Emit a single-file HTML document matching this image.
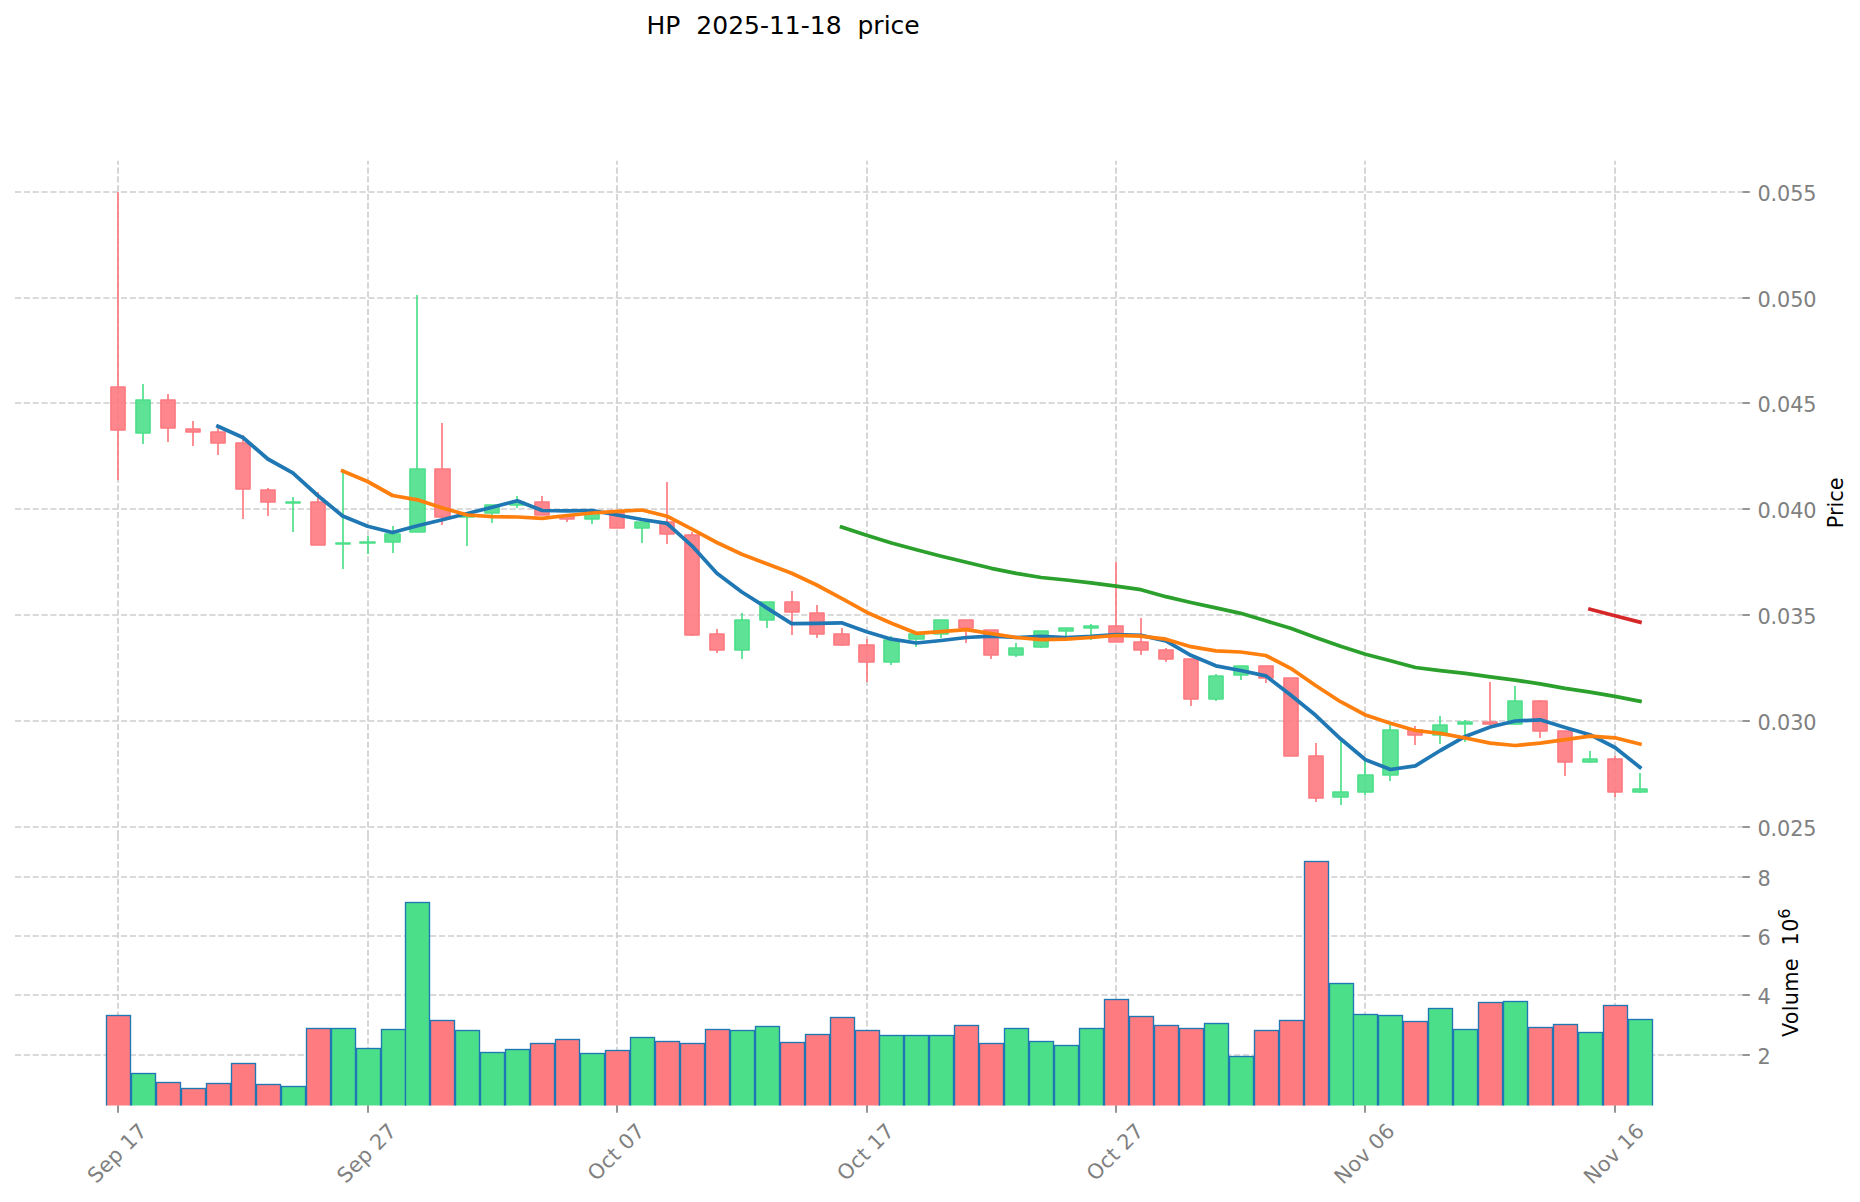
<!DOCTYPE html>
<html><head><meta charset="utf-8"><title>HP 2025-11-18 price</title>
<style>html,body{margin:0;padding:0;background:#fff;overflow:hidden}svg{display:block}</style></head>
<body>
<svg width="1860" height="1202" viewBox="0 0 1860 1202" font-family="'DejaVu Sans', 'Liberation Sans', sans-serif">
<rect width="1860" height="1202" fill="#ffffff"/>
<g stroke="#cecece" stroke-width="1.6667" stroke-dasharray="6.1667 2.6667" fill="none">
<line x1="15.0" y1="192.00" x2="1742.5" y2="192.00"/>
<line x1="15.0" y1="298.00" x2="1742.5" y2="298.00"/>
<line x1="15.0" y1="403.00" x2="1742.5" y2="403.00"/>
<line x1="15.0" y1="509.00" x2="1742.5" y2="509.00"/>
<line x1="15.0" y1="615.00" x2="1742.5" y2="615.00"/>
<line x1="15.0" y1="721.00" x2="1742.5" y2="721.00"/>
<line x1="15.0" y1="827.00" x2="1742.5" y2="827.00"/>
<line x1="15.0" y1="877.00" x2="1742.5" y2="877.00"/>
<line x1="15.0" y1="936.00" x2="1742.5" y2="936.00"/>
<line x1="15.0" y1="995.00" x2="1742.5" y2="995.00"/>
<line x1="15.0" y1="1055.00" x2="1742.5" y2="1055.00"/>
<line x1="118.00" y1="836.17" x2="118.00" y2="160.8"/>
<line x1="118.00" y1="1106.0" x2="118.00" y2="836.17"/>
<line x1="368.00" y1="836.17" x2="368.00" y2="160.8"/>
<line x1="368.00" y1="1106.0" x2="368.00" y2="836.17"/>
<line x1="617.00" y1="836.17" x2="617.00" y2="160.8"/>
<line x1="617.00" y1="1106.0" x2="617.00" y2="836.17"/>
<line x1="867.00" y1="836.17" x2="867.00" y2="160.8"/>
<line x1="867.00" y1="1106.0" x2="867.00" y2="836.17"/>
<line x1="1116.00" y1="836.17" x2="1116.00" y2="160.8"/>
<line x1="1116.00" y1="1106.0" x2="1116.00" y2="836.17"/>
<line x1="1365.00" y1="836.17" x2="1365.00" y2="160.8"/>
<line x1="1365.00" y1="1106.0" x2="1365.00" y2="836.17"/>
<line x1="1615.00" y1="836.17" x2="1615.00" y2="160.8"/>
<line x1="1615.00" y1="1106.0" x2="1615.00" y2="836.17"/>
</g>
<clipPath id="vc"><rect x="0" y="836.17" width="1860" height="269.33000000000004"/></clipPath>
<g stroke="#1f77b4" stroke-width="1.35" stroke-linejoin="miter" clip-path="url(#vc)">
<rect x="106.5" y="1015.5" width="24.0" height="93.00" fill="#fe7b80"/>
<rect x="131.5" y="1073.5" width="24.0" height="35.00" fill="#4cdf8a"/>
<rect x="156.5" y="1082.5" width="24.0" height="26.00" fill="#fe7b80"/>
<rect x="181.5" y="1088.5" width="24.0" height="20.00" fill="#fe7b80"/>
<rect x="206.5" y="1083.5" width="24.0" height="25.00" fill="#fe7b80"/>
<rect x="231.5" y="1063.5" width="24.0" height="45.00" fill="#fe7b80"/>
<rect x="256.5" y="1084.5" width="24.0" height="24.00" fill="#fe7b80"/>
<rect x="281.5" y="1086.5" width="24.0" height="22.00" fill="#4cdf8a"/>
<rect x="306.5" y="1028.5" width="24.0" height="80.00" fill="#fe7b80"/>
<rect x="331.5" y="1028.5" width="24.0" height="80.00" fill="#4cdf8a"/>
<rect x="356.5" y="1048.5" width="24.0" height="60.00" fill="#4cdf8a"/>
<rect x="381.5" y="1029.5" width="24.0" height="79.00" fill="#4cdf8a"/>
<rect x="405.5" y="902.5" width="24.0" height="206.00" fill="#4cdf8a"/>
<rect x="430.5" y="1020.5" width="24.0" height="88.00" fill="#fe7b80"/>
<rect x="455.5" y="1030.5" width="24.0" height="78.00" fill="#4cdf8a"/>
<rect x="480.5" y="1052.5" width="24.0" height="56.00" fill="#4cdf8a"/>
<rect x="505.5" y="1049.5" width="24.0" height="59.00" fill="#4cdf8a"/>
<rect x="530.5" y="1043.5" width="24.0" height="65.00" fill="#fe7b80"/>
<rect x="555.5" y="1039.5" width="24.0" height="69.00" fill="#fe7b80"/>
<rect x="580.5" y="1053.5" width="24.0" height="55.00" fill="#4cdf8a"/>
<rect x="605.5" y="1050.5" width="24.0" height="58.00" fill="#fe7b80"/>
<rect x="630.5" y="1037.5" width="24.0" height="71.00" fill="#4cdf8a"/>
<rect x="655.5" y="1041.5" width="24.0" height="67.00" fill="#fe7b80"/>
<rect x="680.5" y="1043.5" width="24.0" height="65.00" fill="#fe7b80"/>
<rect x="705.5" y="1029.5" width="24.0" height="79.00" fill="#fe7b80"/>
<rect x="730.5" y="1030.5" width="24.0" height="78.00" fill="#4cdf8a"/>
<rect x="755.5" y="1026.5" width="24.0" height="82.00" fill="#4cdf8a"/>
<rect x="780.5" y="1042.5" width="24.0" height="66.00" fill="#fe7b80"/>
<rect x="805.5" y="1034.5" width="24.0" height="74.00" fill="#fe7b80"/>
<rect x="830.5" y="1017.5" width="24.0" height="91.00" fill="#fe7b80"/>
<rect x="855.5" y="1030.5" width="24.0" height="78.00" fill="#fe7b80"/>
<rect x="879.5" y="1035.5" width="24.0" height="73.00" fill="#4cdf8a"/>
<rect x="904.5" y="1035.5" width="24.0" height="73.00" fill="#4cdf8a"/>
<rect x="929.5" y="1035.5" width="24.0" height="73.00" fill="#4cdf8a"/>
<rect x="954.5" y="1025.5" width="24.0" height="83.00" fill="#fe7b80"/>
<rect x="979.5" y="1043.5" width="24.0" height="65.00" fill="#fe7b80"/>
<rect x="1004.5" y="1028.5" width="24.0" height="80.00" fill="#4cdf8a"/>
<rect x="1029.5" y="1041.5" width="24.0" height="67.00" fill="#4cdf8a"/>
<rect x="1054.5" y="1045.5" width="24.0" height="63.00" fill="#4cdf8a"/>
<rect x="1079.5" y="1028.5" width="24.0" height="80.00" fill="#4cdf8a"/>
<rect x="1104.5" y="999.5" width="24.0" height="109.00" fill="#fe7b80"/>
<rect x="1129.5" y="1016.5" width="24.0" height="92.00" fill="#fe7b80"/>
<rect x="1154.5" y="1025.5" width="24.0" height="83.00" fill="#fe7b80"/>
<rect x="1179.5" y="1028.5" width="24.0" height="80.00" fill="#fe7b80"/>
<rect x="1204.5" y="1023.5" width="24.0" height="85.00" fill="#4cdf8a"/>
<rect x="1229.5" y="1056.5" width="24.0" height="52.00" fill="#4cdf8a"/>
<rect x="1254.5" y="1030.5" width="24.0" height="78.00" fill="#fe7b80"/>
<rect x="1279.5" y="1020.5" width="24.0" height="88.00" fill="#fe7b80"/>
<rect x="1304.5" y="861.5" width="24.0" height="247.00" fill="#fe7b80"/>
<rect x="1329.5" y="983.5" width="24.0" height="125.00" fill="#4cdf8a"/>
<rect x="1353.5" y="1014.5" width="24.0" height="94.00" fill="#4cdf8a"/>
<rect x="1378.5" y="1015.5" width="24.0" height="93.00" fill="#4cdf8a"/>
<rect x="1403.5" y="1021.5" width="24.0" height="87.00" fill="#fe7b80"/>
<rect x="1428.5" y="1008.5" width="24.0" height="100.00" fill="#4cdf8a"/>
<rect x="1453.5" y="1029.5" width="24.0" height="79.00" fill="#4cdf8a"/>
<rect x="1478.5" y="1002.5" width="24.0" height="106.00" fill="#fe7b80"/>
<rect x="1503.5" y="1001.5" width="24.0" height="107.00" fill="#4cdf8a"/>
<rect x="1528.5" y="1027.5" width="24.0" height="81.00" fill="#fe7b80"/>
<rect x="1553.5" y="1024.5" width="24.0" height="84.00" fill="#fe7b80"/>
<rect x="1578.5" y="1032.5" width="24.0" height="76.00" fill="#4cdf8a"/>
<rect x="1603.5" y="1005.5" width="24.0" height="103.00" fill="#fe7b80"/>
<rect x="1628.5" y="1019.5" width="24.0" height="89.00" fill="#4cdf8a"/>
</g>
<line x1="118.00" y1="192.00" x2="118.00" y2="386.80" stroke="#fd7a80" stroke-width="1.67"/>
<line x1="118.00" y1="430.10" x2="118.00" y2="480.00" stroke="#fd7a80" stroke-width="1.67"/>
<line x1="143.00" y1="384.00" x2="143.00" y2="400.00" stroke="#4cdf8a" stroke-width="1.67"/>
<line x1="143.00" y1="432.90" x2="143.00" y2="444.00" stroke="#4cdf8a" stroke-width="1.67"/>
<line x1="168.00" y1="394.00" x2="168.00" y2="400.00" stroke="#fd7a80" stroke-width="1.67"/>
<line x1="168.00" y1="427.90" x2="168.00" y2="442.00" stroke="#fd7a80" stroke-width="1.67"/>
<line x1="193.00" y1="421.00" x2="193.00" y2="429.00" stroke="#fd7a80" stroke-width="1.67"/>
<line x1="193.00" y1="432.00" x2="193.00" y2="446.00" stroke="#fd7a80" stroke-width="1.67"/>
<line x1="218.00" y1="428.00" x2="218.00" y2="432.00" stroke="#fd7a80" stroke-width="1.67"/>
<line x1="218.00" y1="442.90" x2="218.00" y2="455.00" stroke="#fd7a80" stroke-width="1.67"/>
<line x1="243.00" y1="435.00" x2="243.00" y2="442.80" stroke="#fd7a80" stroke-width="1.67"/>
<line x1="243.00" y1="488.90" x2="243.00" y2="519.00" stroke="#fd7a80" stroke-width="1.67"/>
<line x1="268.00" y1="488.00" x2="268.00" y2="490.00" stroke="#fd7a80" stroke-width="1.67"/>
<line x1="268.00" y1="502.00" x2="268.00" y2="516.00" stroke="#fd7a80" stroke-width="1.67"/>
<line x1="293.00" y1="497.00" x2="293.00" y2="502.00" stroke="#4cdf8a" stroke-width="1.67"/>
<line x1="293.00" y1="503.00" x2="293.00" y2="532.00" stroke="#4cdf8a" stroke-width="1.67"/>
<line x1="318.00" y1="492.00" x2="318.00" y2="502.00" stroke="#fd7a80" stroke-width="1.67"/>
<line x1="343.00" y1="469.00" x2="343.00" y2="542.80" stroke="#4cdf8a" stroke-width="1.67"/>
<line x1="343.00" y1="544.00" x2="343.00" y2="569.00" stroke="#4cdf8a" stroke-width="1.67"/>
<line x1="368.00" y1="536.00" x2="368.00" y2="541.80" stroke="#4cdf8a" stroke-width="1.67"/>
<line x1="368.00" y1="543.20" x2="368.00" y2="554.00" stroke="#4cdf8a" stroke-width="1.67"/>
<line x1="393.00" y1="526.00" x2="393.00" y2="533.60" stroke="#4cdf8a" stroke-width="1.67"/>
<line x1="393.00" y1="542.00" x2="393.00" y2="553.00" stroke="#4cdf8a" stroke-width="1.67"/>
<line x1="417.00" y1="295.00" x2="417.00" y2="469.00" stroke="#4cdf8a" stroke-width="1.67"/>
<line x1="442.00" y1="423.00" x2="442.00" y2="469.00" stroke="#fd7a80" stroke-width="1.67"/>
<line x1="442.00" y1="516.90" x2="442.00" y2="525.00" stroke="#fd7a80" stroke-width="1.67"/>
<line x1="467.00" y1="513.00" x2="467.00" y2="515.30" stroke="#4cdf8a" stroke-width="1.67"/>
<line x1="467.00" y1="516.70" x2="467.00" y2="546.00" stroke="#4cdf8a" stroke-width="1.67"/>
<line x1="492.00" y1="513.00" x2="492.00" y2="523.00" stroke="#4cdf8a" stroke-width="1.67"/>
<line x1="517.00" y1="496.00" x2="517.00" y2="502.00" stroke="#4cdf8a" stroke-width="1.67"/>
<line x1="517.00" y1="504.70" x2="517.00" y2="508.00" stroke="#4cdf8a" stroke-width="1.67"/>
<line x1="542.00" y1="496.00" x2="542.00" y2="502.00" stroke="#fd7a80" stroke-width="1.67"/>
<line x1="567.00" y1="518.70" x2="567.00" y2="522.00" stroke="#fd7a80" stroke-width="1.67"/>
<line x1="592.00" y1="518.70" x2="592.00" y2="524.00" stroke="#4cdf8a" stroke-width="1.67"/>
<line x1="642.00" y1="527.90" x2="642.00" y2="543.00" stroke="#4cdf8a" stroke-width="1.67"/>
<line x1="667.00" y1="482.00" x2="667.00" y2="522.00" stroke="#fd7a80" stroke-width="1.67"/>
<line x1="667.00" y1="533.90" x2="667.00" y2="544.00" stroke="#fd7a80" stroke-width="1.67"/>
<line x1="692.00" y1="532.00" x2="692.00" y2="535.00" stroke="#fd7a80" stroke-width="1.67"/>
<line x1="692.00" y1="634.70" x2="692.00" y2="636.00" stroke="#fd7a80" stroke-width="1.67"/>
<line x1="717.00" y1="629.00" x2="717.00" y2="634.10" stroke="#fd7a80" stroke-width="1.67"/>
<line x1="717.00" y1="649.70" x2="717.00" y2="653.00" stroke="#fd7a80" stroke-width="1.67"/>
<line x1="742.00" y1="613.00" x2="742.00" y2="620.30" stroke="#4cdf8a" stroke-width="1.67"/>
<line x1="742.00" y1="649.70" x2="742.00" y2="659.00" stroke="#4cdf8a" stroke-width="1.67"/>
<line x1="767.00" y1="619.70" x2="767.00" y2="628.00" stroke="#4cdf8a" stroke-width="1.67"/>
<line x1="792.00" y1="591.00" x2="792.00" y2="602.10" stroke="#fd7a80" stroke-width="1.67"/>
<line x1="792.00" y1="611.70" x2="792.00" y2="635.00" stroke="#fd7a80" stroke-width="1.67"/>
<line x1="817.00" y1="605.00" x2="817.00" y2="613.30" stroke="#fd7a80" stroke-width="1.67"/>
<line x1="817.00" y1="633.70" x2="817.00" y2="638.00" stroke="#fd7a80" stroke-width="1.67"/>
<line x1="842.00" y1="628.00" x2="842.00" y2="634.10" stroke="#fd7a80" stroke-width="1.67"/>
<line x1="842.00" y1="644.70" x2="842.00" y2="646.00" stroke="#fd7a80" stroke-width="1.67"/>
<line x1="867.00" y1="639.00" x2="867.00" y2="645.30" stroke="#fd7a80" stroke-width="1.67"/>
<line x1="867.00" y1="661.70" x2="867.00" y2="682.00" stroke="#fd7a80" stroke-width="1.67"/>
<line x1="891.00" y1="636.00" x2="891.00" y2="640.00" stroke="#4cdf8a" stroke-width="1.67"/>
<line x1="891.00" y1="661.70" x2="891.00" y2="665.00" stroke="#4cdf8a" stroke-width="1.67"/>
<line x1="916.00" y1="639.20" x2="916.00" y2="647.00" stroke="#4cdf8a" stroke-width="1.67"/>
<line x1="941.00" y1="633.70" x2="941.00" y2="638.00" stroke="#4cdf8a" stroke-width="1.67"/>
<line x1="966.00" y1="628.20" x2="966.00" y2="643.00" stroke="#fd7a80" stroke-width="1.67"/>
<line x1="991.00" y1="654.70" x2="991.00" y2="659.00" stroke="#fd7a80" stroke-width="1.67"/>
<line x1="1016.00" y1="643.00" x2="1016.00" y2="648.30" stroke="#4cdf8a" stroke-width="1.67"/>
<line x1="1016.00" y1="654.70" x2="1016.00" y2="657.00" stroke="#4cdf8a" stroke-width="1.67"/>
<line x1="1041.00" y1="646.70" x2="1041.00" y2="648.00" stroke="#4cdf8a" stroke-width="1.67"/>
<line x1="1066.00" y1="630.90" x2="1066.00" y2="637.00" stroke="#4cdf8a" stroke-width="1.67"/>
<line x1="1091.00" y1="624.00" x2="1091.00" y2="626.10" stroke="#4cdf8a" stroke-width="1.67"/>
<line x1="1091.00" y1="627.90" x2="1091.00" y2="640.00" stroke="#4cdf8a" stroke-width="1.67"/>
<line x1="1116.00" y1="562.00" x2="1116.00" y2="626.30" stroke="#fd7a80" stroke-width="1.67"/>
<line x1="1141.00" y1="618.00" x2="1141.00" y2="642.10" stroke="#fd7a80" stroke-width="1.67"/>
<line x1="1141.00" y1="649.70" x2="1141.00" y2="655.00" stroke="#fd7a80" stroke-width="1.67"/>
<line x1="1166.00" y1="648.00" x2="1166.00" y2="650.30" stroke="#fd7a80" stroke-width="1.67"/>
<line x1="1166.00" y1="658.70" x2="1166.00" y2="662.00" stroke="#fd7a80" stroke-width="1.67"/>
<line x1="1191.00" y1="698.90" x2="1191.00" y2="706.00" stroke="#fd7a80" stroke-width="1.67"/>
<line x1="1216.00" y1="674.00" x2="1216.00" y2="676.10" stroke="#4cdf8a" stroke-width="1.67"/>
<line x1="1216.00" y1="698.90" x2="1216.00" y2="701.00" stroke="#4cdf8a" stroke-width="1.67"/>
<line x1="1241.00" y1="674.70" x2="1241.00" y2="680.00" stroke="#4cdf8a" stroke-width="1.67"/>
<line x1="1266.00" y1="677.90" x2="1266.00" y2="683.00" stroke="#fd7a80" stroke-width="1.67"/>
<line x1="1316.00" y1="743.00" x2="1316.00" y2="756.10" stroke="#fd7a80" stroke-width="1.67"/>
<line x1="1316.00" y1="797.90" x2="1316.00" y2="802.00" stroke="#fd7a80" stroke-width="1.67"/>
<line x1="1341.00" y1="741.00" x2="1341.00" y2="792.10" stroke="#4cdf8a" stroke-width="1.67"/>
<line x1="1341.00" y1="796.70" x2="1341.00" y2="805.00" stroke="#4cdf8a" stroke-width="1.67"/>
<line x1="1365.00" y1="760.00" x2="1365.00" y2="775.30" stroke="#4cdf8a" stroke-width="1.67"/>
<line x1="1365.00" y1="791.70" x2="1365.00" y2="795.00" stroke="#4cdf8a" stroke-width="1.67"/>
<line x1="1390.00" y1="725.00" x2="1390.00" y2="730.30" stroke="#4cdf8a" stroke-width="1.67"/>
<line x1="1390.00" y1="774.70" x2="1390.00" y2="781.00" stroke="#4cdf8a" stroke-width="1.67"/>
<line x1="1415.00" y1="726.00" x2="1415.00" y2="730.00" stroke="#fd7a80" stroke-width="1.67"/>
<line x1="1415.00" y1="734.70" x2="1415.00" y2="745.00" stroke="#fd7a80" stroke-width="1.67"/>
<line x1="1440.00" y1="716.00" x2="1440.00" y2="724.50" stroke="#4cdf8a" stroke-width="1.67"/>
<line x1="1440.00" y1="734.70" x2="1440.00" y2="744.00" stroke="#4cdf8a" stroke-width="1.67"/>
<line x1="1465.00" y1="720.00" x2="1465.00" y2="722.10" stroke="#4cdf8a" stroke-width="1.67"/>
<line x1="1465.00" y1="724.50" x2="1465.00" y2="742.00" stroke="#4cdf8a" stroke-width="1.67"/>
<line x1="1490.00" y1="682.00" x2="1490.00" y2="722.00" stroke="#fd7a80" stroke-width="1.67"/>
<line x1="1490.00" y1="723.80" x2="1490.00" y2="725.00" stroke="#fd7a80" stroke-width="1.67"/>
<line x1="1515.00" y1="686.00" x2="1515.00" y2="701.20" stroke="#4cdf8a" stroke-width="1.67"/>
<line x1="1515.00" y1="723.80" x2="1515.00" y2="725.00" stroke="#4cdf8a" stroke-width="1.67"/>
<line x1="1540.00" y1="700.00" x2="1540.00" y2="701.20" stroke="#fd7a80" stroke-width="1.67"/>
<line x1="1540.00" y1="730.70" x2="1540.00" y2="738.00" stroke="#fd7a80" stroke-width="1.67"/>
<line x1="1565.00" y1="761.70" x2="1565.00" y2="776.00" stroke="#fd7a80" stroke-width="1.67"/>
<line x1="1590.00" y1="751.00" x2="1590.00" y2="759.10" stroke="#4cdf8a" stroke-width="1.67"/>
<line x1="1590.00" y1="761.70" x2="1590.00" y2="763.00" stroke="#4cdf8a" stroke-width="1.67"/>
<line x1="1615.00" y1="756.00" x2="1615.00" y2="759.10" stroke="#fd7a80" stroke-width="1.67"/>
<line x1="1615.00" y1="791.70" x2="1615.00" y2="797.00" stroke="#fd7a80" stroke-width="1.67"/>
<line x1="1640.00" y1="773.00" x2="1640.00" y2="789.10" stroke="#4cdf8a" stroke-width="1.67"/>
<line x1="1640.00" y1="791.70" x2="1640.00" y2="793.00" stroke="#4cdf8a" stroke-width="1.67"/>
<rect x="111" y="387" width="14" height="43" fill="#fd7a80" fill-opacity="0.9" stroke="#fd7a80" stroke-width="1.67" stroke-linejoin="round"/>
<rect x="136" y="400" width="14" height="33" fill="#4cdf8a" fill-opacity="0.9" stroke="#4cdf8a" stroke-width="1.67" stroke-linejoin="round"/>
<rect x="161" y="400" width="14" height="28" fill="#fd7a80" fill-opacity="0.9" stroke="#fd7a80" stroke-width="1.67" stroke-linejoin="round"/>
<rect x="186" y="429" width="14" height="3" fill="#fd7a80" fill-opacity="0.9" stroke="#fd7a80" stroke-width="1.67" stroke-linejoin="round"/>
<rect x="211" y="432" width="14" height="11" fill="#fd7a80" fill-opacity="0.9" stroke="#fd7a80" stroke-width="1.67" stroke-linejoin="round"/>
<rect x="236" y="443" width="14" height="46" fill="#fd7a80" fill-opacity="0.9" stroke="#fd7a80" stroke-width="1.67" stroke-linejoin="round"/>
<rect x="261" y="490" width="14" height="12" fill="#fd7a80" fill-opacity="0.9" stroke="#fd7a80" stroke-width="1.67" stroke-linejoin="round"/>
<rect x="286" y="502" width="14" height="1" fill="#4cdf8a" fill-opacity="0.9" stroke="#4cdf8a" stroke-width="1.67" stroke-linejoin="round"/>
<rect x="311" y="502" width="14" height="43" fill="#fd7a80" fill-opacity="0.9" stroke="#fd7a80" stroke-width="1.67" stroke-linejoin="round"/>
<rect x="336" y="543" width="14" height="1" fill="#4cdf8a" fill-opacity="0.9" stroke="#4cdf8a" stroke-width="1.67" stroke-linejoin="round"/>
<rect x="360" y="542" width="15" height="1" fill="#4cdf8a" fill-opacity="0.9" stroke="#4cdf8a" stroke-width="1.67" stroke-linejoin="round"/>
<rect x="385" y="534" width="15" height="8" fill="#4cdf8a" fill-opacity="0.9" stroke="#4cdf8a" stroke-width="1.67" stroke-linejoin="round"/>
<rect x="410" y="469" width="15" height="63" fill="#4cdf8a" fill-opacity="0.9" stroke="#4cdf8a" stroke-width="1.67" stroke-linejoin="round"/>
<rect x="435" y="469" width="15" height="48" fill="#fd7a80" fill-opacity="0.9" stroke="#fd7a80" stroke-width="1.67" stroke-linejoin="round"/>
<rect x="460" y="515" width="14" height="2" fill="#4cdf8a" fill-opacity="0.9" stroke="#4cdf8a" stroke-width="1.67" stroke-linejoin="round"/>
<rect x="485" y="505" width="14" height="8" fill="#4cdf8a" fill-opacity="0.9" stroke="#4cdf8a" stroke-width="1.67" stroke-linejoin="round"/>
<rect x="510" y="502" width="14" height="3" fill="#4cdf8a" fill-opacity="0.9" stroke="#4cdf8a" stroke-width="1.67" stroke-linejoin="round"/>
<rect x="535" y="502" width="14" height="13" fill="#fd7a80" fill-opacity="0.9" stroke="#fd7a80" stroke-width="1.67" stroke-linejoin="round"/>
<rect x="560" y="516" width="14" height="3" fill="#fd7a80" fill-opacity="0.9" stroke="#fd7a80" stroke-width="1.67" stroke-linejoin="round"/>
<rect x="585" y="513" width="14" height="6" fill="#4cdf8a" fill-opacity="0.9" stroke="#4cdf8a" stroke-width="1.67" stroke-linejoin="round"/>
<rect x="610" y="513" width="14" height="15" fill="#fd7a80" fill-opacity="0.9" stroke="#fd7a80" stroke-width="1.67" stroke-linejoin="round"/>
<rect x="635" y="522" width="14" height="6" fill="#4cdf8a" fill-opacity="0.9" stroke="#4cdf8a" stroke-width="1.67" stroke-linejoin="round"/>
<rect x="660" y="522" width="14" height="12" fill="#fd7a80" fill-opacity="0.9" stroke="#fd7a80" stroke-width="1.67" stroke-linejoin="round"/>
<rect x="685" y="535" width="14" height="100" fill="#fd7a80" fill-opacity="0.9" stroke="#fd7a80" stroke-width="1.67" stroke-linejoin="round"/>
<rect x="710" y="634" width="14" height="16" fill="#fd7a80" fill-opacity="0.9" stroke="#fd7a80" stroke-width="1.67" stroke-linejoin="round"/>
<rect x="735" y="620" width="14" height="30" fill="#4cdf8a" fill-opacity="0.9" stroke="#4cdf8a" stroke-width="1.67" stroke-linejoin="round"/>
<rect x="760" y="602" width="14" height="18" fill="#4cdf8a" fill-opacity="0.9" stroke="#4cdf8a" stroke-width="1.67" stroke-linejoin="round"/>
<rect x="785" y="602" width="14" height="10" fill="#fd7a80" fill-opacity="0.9" stroke="#fd7a80" stroke-width="1.67" stroke-linejoin="round"/>
<rect x="810" y="613" width="14" height="21" fill="#fd7a80" fill-opacity="0.9" stroke="#fd7a80" stroke-width="1.67" stroke-linejoin="round"/>
<rect x="834" y="634" width="15" height="11" fill="#fd7a80" fill-opacity="0.9" stroke="#fd7a80" stroke-width="1.67" stroke-linejoin="round"/>
<rect x="859" y="645" width="15" height="17" fill="#fd7a80" fill-opacity="0.9" stroke="#fd7a80" stroke-width="1.67" stroke-linejoin="round"/>
<rect x="884" y="640" width="15" height="22" fill="#4cdf8a" fill-opacity="0.9" stroke="#4cdf8a" stroke-width="1.67" stroke-linejoin="round"/>
<rect x="909" y="634" width="15" height="5" fill="#4cdf8a" fill-opacity="0.9" stroke="#4cdf8a" stroke-width="1.67" stroke-linejoin="round"/>
<rect x="934" y="620" width="14" height="14" fill="#4cdf8a" fill-opacity="0.9" stroke="#4cdf8a" stroke-width="1.67" stroke-linejoin="round"/>
<rect x="959" y="620" width="14" height="8" fill="#fd7a80" fill-opacity="0.9" stroke="#fd7a80" stroke-width="1.67" stroke-linejoin="round"/>
<rect x="984" y="630" width="14" height="25" fill="#fd7a80" fill-opacity="0.9" stroke="#fd7a80" stroke-width="1.67" stroke-linejoin="round"/>
<rect x="1009" y="648" width="14" height="7" fill="#4cdf8a" fill-opacity="0.9" stroke="#4cdf8a" stroke-width="1.67" stroke-linejoin="round"/>
<rect x="1034" y="631" width="14" height="16" fill="#4cdf8a" fill-opacity="0.9" stroke="#4cdf8a" stroke-width="1.67" stroke-linejoin="round"/>
<rect x="1059" y="628" width="14" height="3" fill="#4cdf8a" fill-opacity="0.9" stroke="#4cdf8a" stroke-width="1.67" stroke-linejoin="round"/>
<rect x="1084" y="626" width="14" height="2" fill="#4cdf8a" fill-opacity="0.9" stroke="#4cdf8a" stroke-width="1.67" stroke-linejoin="round"/>
<rect x="1109" y="626" width="14" height="16" fill="#fd7a80" fill-opacity="0.9" stroke="#fd7a80" stroke-width="1.67" stroke-linejoin="round"/>
<rect x="1134" y="642" width="14" height="8" fill="#fd7a80" fill-opacity="0.9" stroke="#fd7a80" stroke-width="1.67" stroke-linejoin="round"/>
<rect x="1159" y="650" width="14" height="9" fill="#fd7a80" fill-opacity="0.9" stroke="#fd7a80" stroke-width="1.67" stroke-linejoin="round"/>
<rect x="1184" y="659" width="14" height="40" fill="#fd7a80" fill-opacity="0.9" stroke="#fd7a80" stroke-width="1.67" stroke-linejoin="round"/>
<rect x="1209" y="676" width="14" height="23" fill="#4cdf8a" fill-opacity="0.9" stroke="#4cdf8a" stroke-width="1.67" stroke-linejoin="round"/>
<rect x="1234" y="666" width="14" height="9" fill="#4cdf8a" fill-opacity="0.9" stroke="#4cdf8a" stroke-width="1.67" stroke-linejoin="round"/>
<rect x="1259" y="666" width="14" height="12" fill="#fd7a80" fill-opacity="0.9" stroke="#fd7a80" stroke-width="1.67" stroke-linejoin="round"/>
<rect x="1284" y="678" width="14" height="78" fill="#fd7a80" fill-opacity="0.9" stroke="#fd7a80" stroke-width="1.67" stroke-linejoin="round"/>
<rect x="1309" y="756" width="14" height="42" fill="#fd7a80" fill-opacity="0.9" stroke="#fd7a80" stroke-width="1.67" stroke-linejoin="round"/>
<rect x="1333" y="792" width="15" height="5" fill="#4cdf8a" fill-opacity="0.9" stroke="#4cdf8a" stroke-width="1.67" stroke-linejoin="round"/>
<rect x="1358" y="775" width="15" height="17" fill="#4cdf8a" fill-opacity="0.9" stroke="#4cdf8a" stroke-width="1.67" stroke-linejoin="round"/>
<rect x="1383" y="730" width="15" height="45" fill="#4cdf8a" fill-opacity="0.9" stroke="#4cdf8a" stroke-width="1.67" stroke-linejoin="round"/>
<rect x="1408" y="730" width="14" height="5" fill="#fd7a80" fill-opacity="0.9" stroke="#fd7a80" stroke-width="1.67" stroke-linejoin="round"/>
<rect x="1433" y="725" width="14" height="10" fill="#4cdf8a" fill-opacity="0.9" stroke="#4cdf8a" stroke-width="1.67" stroke-linejoin="round"/>
<rect x="1458" y="722" width="14" height="2" fill="#4cdf8a" fill-opacity="0.9" stroke="#4cdf8a" stroke-width="1.67" stroke-linejoin="round"/>
<rect x="1483" y="722" width="14" height="2" fill="#fd7a80" fill-opacity="0.9" stroke="#fd7a80" stroke-width="1.67" stroke-linejoin="round"/>
<rect x="1508" y="701" width="14" height="23" fill="#4cdf8a" fill-opacity="0.9" stroke="#4cdf8a" stroke-width="1.67" stroke-linejoin="round"/>
<rect x="1533" y="701" width="14" height="30" fill="#fd7a80" fill-opacity="0.9" stroke="#fd7a80" stroke-width="1.67" stroke-linejoin="round"/>
<rect x="1558" y="731" width="14" height="31" fill="#fd7a80" fill-opacity="0.9" stroke="#fd7a80" stroke-width="1.67" stroke-linejoin="round"/>
<rect x="1583" y="759" width="14" height="3" fill="#4cdf8a" fill-opacity="0.9" stroke="#4cdf8a" stroke-width="1.67" stroke-linejoin="round"/>
<rect x="1608" y="759" width="14" height="33" fill="#fd7a80" fill-opacity="0.9" stroke="#fd7a80" stroke-width="1.67" stroke-linejoin="round"/>
<rect x="1633" y="789" width="14" height="3" fill="#4cdf8a" fill-opacity="0.9" stroke="#4cdf8a" stroke-width="1.67" stroke-linejoin="round"/>
<polyline points="217.91,426.20 242.86,437.50 267.81,459.00 292.75,472.80 317.70,495.50 342.65,516.00 367.60,526.20 392.54,532.50 417.49,525.80 442.44,519.80 467.39,513.50 492.33,507.20 517.28,500.80 542.23,510.50 567.17,510.80 592.12,510.50 617.07,515.00 642.02,519.50 666.97,523.30 691.91,545.80 716.86,573.30 741.81,592.00 766.75,607.80 791.70,623.70 816.65,623.30 841.60,622.80 866.55,631.70 891.49,639.20 916.44,643.00 941.39,640.50 966.34,637.50 991.28,636.20 1016.23,637.50 1041.18,636.30 1066.12,637.50 1091.07,636.30 1116.02,634.50 1140.97,635.30 1165.91,640.80 1190.86,655.30 1215.81,665.80 1240.76,670.50 1265.70,675.80 1290.65,695.00 1315.60,715.30 1340.55,738.80 1365.49,759.70 1390.44,769.50 1415.39,765.80 1440.34,750.50 1465.29,736.40 1490.23,727.00 1515.18,721.00 1540.13,719.80 1565.08,727.50 1590.02,734.70 1614.97,747.50 1639.92,767.30" fill="none" stroke="#1f77b4" stroke-width="3.75" stroke-linecap="square" stroke-linejoin="round"/>
<polyline points="342.65,471.00 367.60,481.50 392.54,495.50 417.49,499.80 442.44,508.00 467.39,515.00 492.33,516.70 517.28,517.00 542.23,518.30 567.17,515.50 592.12,513.00 617.07,511.30 642.02,510.00 666.97,516.20 691.91,529.20 716.86,542.50 741.81,554.20 766.75,563.80 791.70,573.30 816.65,585.00 841.60,598.30 866.55,612.20 891.49,623.30 916.44,633.30 941.39,631.70 966.34,629.70 991.28,633.70 1016.23,637.50 1041.18,639.70 1066.12,639.20 1091.07,637.50 1116.02,635.50 1140.97,636.20 1165.91,639.20 1190.86,646.70 1215.81,650.80 1240.76,652.00 1265.70,655.50 1290.65,668.30 1315.60,685.50 1340.55,701.70 1365.49,715.00 1390.44,723.30 1415.39,730.50 1440.34,733.30 1465.29,738.00 1490.23,743.20 1515.18,745.50 1540.13,743.20 1565.08,739.70 1590.02,736.20 1614.97,737.80 1639.92,744.00" fill="none" stroke="#ff7f0e" stroke-width="3.75" stroke-linecap="square" stroke-linejoin="round"/>
<polyline points="841.60,527.00 866.55,535.30 891.49,543.00 916.44,549.70 941.39,556.20 966.34,562.30 991.28,568.30 1016.23,573.30 1041.18,577.50 1066.12,580.00 1091.07,582.80 1116.02,586.20 1140.97,589.70 1165.91,596.70 1190.86,602.50 1215.81,607.80 1240.76,613.30 1265.70,620.80 1290.65,628.30 1315.60,637.50 1340.55,646.30 1365.49,654.20 1390.44,660.80 1415.39,667.50 1440.34,670.60 1465.29,673.30 1490.23,676.80 1515.18,680.20 1540.13,683.80 1565.08,688.30 1590.02,692.20 1614.97,696.30 1639.92,701.20" fill="none" stroke="#2ca02c" stroke-width="3.75" stroke-linecap="square" stroke-linejoin="round"/>
<polyline points="1590.02,609.20 1614.97,615.80 1639.92,622.20" fill="none" stroke="#d62728" stroke-width="3.75" stroke-linecap="square" stroke-linejoin="round"/>
<g stroke="#808080" stroke-width="1.67">
<line x1="1742.5" y1="192.00" x2="1749.8" y2="192.00"/>
<line x1="1742.5" y1="298.00" x2="1749.8" y2="298.00"/>
<line x1="1742.5" y1="403.00" x2="1749.8" y2="403.00"/>
<line x1="1742.5" y1="509.00" x2="1749.8" y2="509.00"/>
<line x1="1742.5" y1="615.00" x2="1749.8" y2="615.00"/>
<line x1="1742.5" y1="721.00" x2="1749.8" y2="721.00"/>
<line x1="1742.5" y1="827.00" x2="1749.8" y2="827.00"/>
<line x1="1742.5" y1="877.00" x2="1749.8" y2="877.00"/>
<line x1="1742.5" y1="936.00" x2="1749.8" y2="936.00"/>
<line x1="1742.5" y1="995.00" x2="1749.8" y2="995.00"/>
<line x1="1742.5" y1="1055.00" x2="1749.8" y2="1055.00"/>
<line x1="118.00" y1="1105.5" x2="118.00" y2="1112.8"/>
<line x1="368.00" y1="1105.5" x2="368.00" y2="1112.8"/>
<line x1="617.00" y1="1105.5" x2="617.00" y2="1112.8"/>
<line x1="867.00" y1="1105.5" x2="867.00" y2="1112.8"/>
<line x1="1116.00" y1="1105.5" x2="1116.00" y2="1112.8"/>
<line x1="1365.00" y1="1105.5" x2="1365.00" y2="1112.8"/>
<line x1="1615.00" y1="1105.5" x2="1615.00" y2="1112.8"/>
</g>
<g fill="#808080" font-size="20.83">
<text x="1757.5" y="200.60" letter-spacing="-0.15">0.055</text>
<text x="1757.5" y="306.60" letter-spacing="-0.15">0.050</text>
<text x="1757.5" y="411.60" letter-spacing="-0.15">0.045</text>
<text x="1757.5" y="517.60" letter-spacing="-0.15">0.040</text>
<text x="1757.5" y="623.60" letter-spacing="-0.15">0.035</text>
<text x="1757.5" y="729.60" letter-spacing="-0.15">0.030</text>
<text x="1757.5" y="835.60" letter-spacing="-0.15">0.025</text>
<text x="1757.5" y="885.60">8</text>
<text x="1757.5" y="944.60">6</text>
<text x="1757.5" y="1003.60">4</text>
<text x="1757.5" y="1063.60">2</text>
<text transform="translate(96.24,1184.19) rotate(-45)" letter-spacing="0.2">Sep 17</text>
<text transform="translate(345.71,1184.19) rotate(-45)" letter-spacing="0.2">Sep 27</text>
<text transform="translate(596.34,1181.89) rotate(-45)" letter-spacing="0.2">Oct 07</text>
<text transform="translate(845.81,1181.89) rotate(-45)" letter-spacing="0.2">Oct 17</text>
<text transform="translate(1095.29,1181.89) rotate(-45)" letter-spacing="0.2">Oct 27</text>
<text transform="translate(1343.12,1185.17) rotate(-45)" letter-spacing="0.2">Nov 06</text>
<text transform="translate(1592.60,1185.17) rotate(-45)" letter-spacing="0.2">Nov 16</text>
</g>
<text transform="translate(1843.3,526.2) rotate(-90)" font-size="20.83" fill="#000" x="-2.04">Price</text>
<text transform="translate(1798.3,1037.0) rotate(-90)" font-size="20.83" fill="#000" letter-spacing="0.2">Volume</text>
<text transform="translate(1798.3,945.5) rotate(-90)" font-size="20.83" fill="#000" letter-spacing="0.6">10</text>
<text transform="translate(1790.1,918.5) rotate(-90)" font-size="15.6" fill="#000">6</text>
<text x="646.55" y="34.1" font-size="25.0" fill="#000" style="white-space:pre" xml:space="preserve">HP  2025-11-18  price</text>
</svg>
</body></html>
